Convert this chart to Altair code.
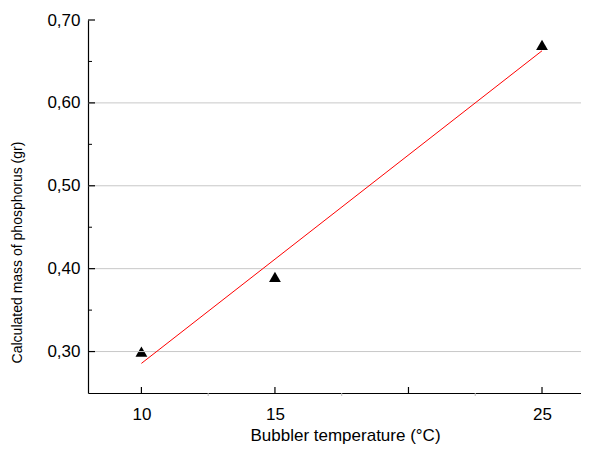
import altair as alt
import pandas as pd

# data
temps = [10, 15, 25]
mass = [0.30, 0.39, 0.67]

x_label_values = [10, 15, 25]
x_major_ticks = [10, 15, 20, 25]
x_minor_ticks = [12.5, 17.5, 22.5]
y_major_values = [0.30, 0.40, 0.50, 0.60, 0.70]
y_minor_values = [0.35, 0.45, 0.55, 0.65]
y_grid_values = [0.30, 0.40, 0.50, 0.60]

W, H = 493, 373
XDOM = [8, 26.46]
YDOM = [0.25, 0.70]
FONT = "Liberation Sans"

df = pd.DataFrame({"t": temps, "m": mass})

xs = alt.Scale(domain=XDOM, nice=False, zero=False)
ys = alt.Scale(domain=YDOM, nice=False, zero=False)

xaxis = alt.Axis(values=x_label_values, ticks=False, grid=False,
                 domainColor="black", domainWidth=1.2,
                 labelFont=FONT, labelFontSize=17, labelColor="black",
                 labelBaseline="alphabetic", labelPadding=26,
                 titleFont=FONT, titleFontSize=17,
                 titleFontWeight="normal", titleColor="black",
                 titleBaseline="alphabetic", titleY=47, titleX=257)
yaxis = alt.Axis(values=y_major_values, ticks=False, grid=False,
                 domainColor="black", domainWidth=1.2,
                 labelExpr="replace(format(datum.value, '.2f'), '.', ',')",
                 labelFont=FONT, labelFontSize=17, labelColor="black",
                 labelPadding=8,
                 titleFont=FONT,
                 titleFontSize=14, titleFontWeight="normal",
                 titleColor="black", titleY=232, titleX=-64)

XT = "Bubbler temperature (°C)"
YT = "Calculated mass of phosphorus (gr)"

points = alt.Chart(df).mark_point(
    shape="triangle-up", filled=True, color="black", size=140, opacity=1
).encode(
    x=alt.X("t:Q", scale=xs, title=XT, axis=xaxis),
    y=alt.Y("m:Q", scale=ys, title=YT, axis=yaxis),
)

grid = alt.Chart(pd.DataFrame({"g": y_grid_values})).mark_rule(
    color="#c8c8c8", strokeWidth=1
).encode(y=alt.Y("g:Q", scale=ys, title=YT, axis=yaxis))

line = alt.Chart(df).transform_regression("t", "m").mark_line(
    color="red", strokeWidth=1
).encode(x=alt.X("t:Q", scale=xs, title=XT, axis=xaxis),
         y=alt.Y("m:Q", scale=ys, title=YT, axis=yaxis))

ymaj = alt.Chart(pd.DataFrame({"v": y_major_values})).mark_rule(
    color="black", strokeWidth=1.2
).encode(y=alt.Y("v:Q", scale=ys, title=YT, axis=yaxis), x=alt.value(0), x2=alt.value(7))

ymin = alt.Chart(pd.DataFrame({"v": y_minor_values})).mark_rule(
    color="black", strokeWidth=1
).encode(y=alt.Y("v:Q", scale=ys, title=YT, axis=yaxis), x=alt.value(0), x2=alt.value(4))

xmaj = alt.Chart(pd.DataFrame({"v": x_major_ticks})).mark_rule(
    color="black", strokeWidth=1.2
).encode(x=alt.X("v:Q", scale=xs, title=XT, axis=xaxis), y=alt.value(H), y2=alt.value(H - 6))

xmin = alt.Chart(pd.DataFrame({"v": x_minor_ticks})).mark_rule(
    color="#bbbbbb", strokeWidth=1
).encode(x=alt.X("v:Q", scale=xs, title=XT, axis=xaxis), y=alt.value(H), y2=alt.value(H + 3))

chart = alt.layer(points, grid, line, ymaj, ymin, xmaj, xmin).properties(
    width=W, height=H,
    autosize=alt.AutoSizeParams(type="none"),
    padding={"left": 80, "top": 12, "right": 0, "bottom": 51},
    background="white",
).configure_view(strokeWidth=0)

chart.save("out.html", embed_options={"renderer": "svg", "actions": False})
